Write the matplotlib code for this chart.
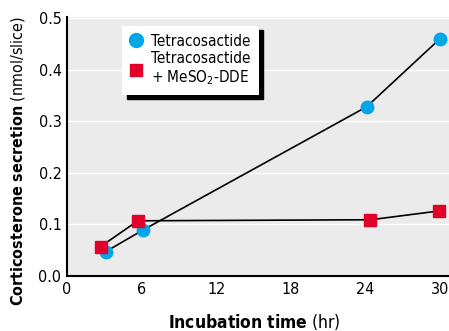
import matplotlib.pyplot as plt
from matplotlib.lines import Line2D

plt.rcParams['font.family'] = ['DejaVu Sans']
plt.rcParams['font.stretch'] = 'condensed'
plt.rcParams['mathtext.fontset'] = 'custom'
plt.rcParams['mathtext.rm'] = 'DejaVu Sans:stretch=condensed'
plt.rcParams['mathtext.bf'] = 'DejaVu Sans:bold:stretch=condensed'

# data
tetra_x = [3.1, 6.1, 24.1, 30.0]
tetra_y = [0.047, 0.089, 0.328, 0.460]
meso_x = [2.7, 5.7, 24.4, 29.9]
meso_y = [0.057, 0.107, 0.109, 0.126]
xticks = [0, 6, 12, 18, 24, 30]
yticks = [0.0, 0.1, 0.2, 0.3, 0.4, 0.5]

fig = plt.figure(figsize=(4.49, 3.31), dpi=100)
ax = fig.add_axes([67/449, (331-276)/331, 1-67/449, (276-17)/331])
ax.set_facecolor("#ebebeb")
ax.set_xlim(0, 30.72)
ax.set_ylim(0, 0.502)
for y in yticks[1:]:
    ax.axhline(y, color="white", lw=1, zorder=0)

ax.plot(tetra_x, tetra_y, color="black", lw=1.2, marker="o", ms=9, mfc="#00a6e8", mec="#00a6e8", zorder=3)
ax.plot(meso_x, meso_y, color="black", lw=1.2, marker="s", ms=9, mfc="#e0002a", mec="#e0002a", zorder=3)

ax.set_xticks(xticks)
ax.set_yticks(yticks)
ax.set_yticklabels(["%.1f" % v for v in yticks])
ax.tick_params(length=0, labelsize=11.5, pad=4)
for s in ["top", "right"]:
    ax.spines[s].set_visible(False)
ax.spines["left"].set_linewidth(1.5)
ax.spines["bottom"].set_linewidth(1.5)

ax.set_xlabel(r"$\bf{Incubation\ time}$ (hr)", fontsize=12.5)
ax.xaxis.set_label_coords(0.49, -0.14)
ax.set_ylabel(r"$\bf{Corticosterone\ secretion}$ (nmol/slice)", fontsize=11.5)
ax.yaxis.set_label_coords(-0.105, 0.445)

handles = [Line2D([], [], ls="none", marker="o", ms=10, mfc="#00a6e8", mec="#00a6e8"),
           Line2D([], [], ls="none", marker="s", ms=9, mfc="#e0002a", mec="#e0002a")]
labels = ["Tetracosactide", "Tetracosactide\n+ MeSO$_2$-DDE"]
leg = ax.legend(handles, labels, loc="upper left", bbox_to_anchor=(0.125, 0.995), fontsize=11,
                frameon=True, fancybox=False, shadow={"color": "black", "alpha": 1, "ox": 3, "oy": -3},
                handlelength=0.8, handletextpad=0.6, borderpad=0.5, labelspacing=0.15)
leg.get_frame().set_edgecolor("none")
leg.get_frame().set_alpha(1)

fig.savefig("out.png", dpi=100)
